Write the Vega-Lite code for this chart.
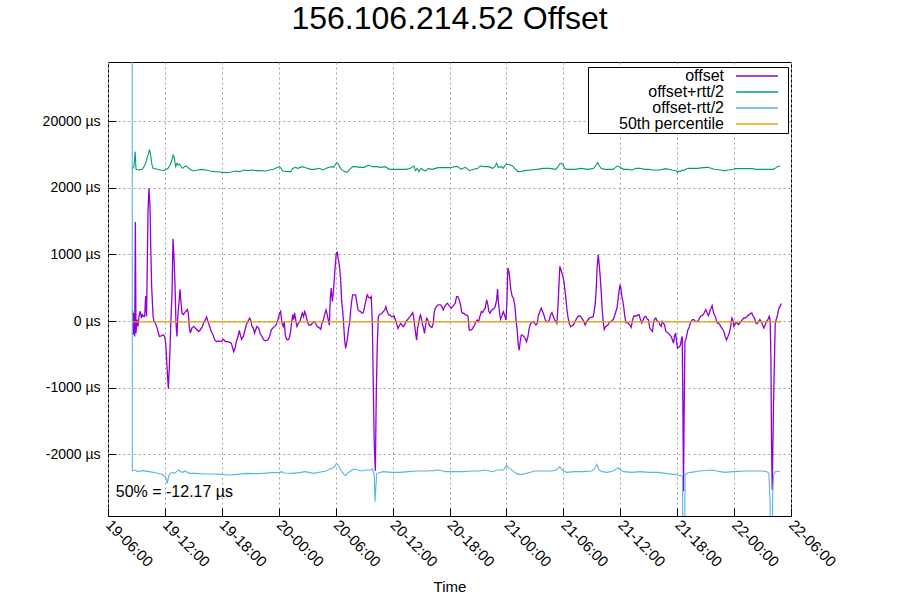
{
  "$schema": "https://vega.github.io/schema/vega-lite/v6.json",
  "width": 683,
  "height": 454,
  "autosize": {"type": "none"},
  "padding": {"left": 108, "top": 62, "right": 109, "bottom": 84},
  "background": "white",
  "title": {"text": "156.106.214.52 Offset", "fontSize": 32, "font": "Liberation Sans", "fontWeight": "normal", "anchor": "middle", "color": "black", "offset": 26},
  "config": {
    "view": {"stroke": "black", "strokeWidth": 1},
    "font": "Liberation Sans",
    "axis": {"grid": true, "gridDash": [2, 3], "gridColor": "#a0a0a0", "gridOpacity": 1, "domain": false, "tickColor": "black", "tickSize": -8, "labelColor": "black", "labelFontSize": 14, "labelFont": "Liberation Sans", "titleFont": "Liberation Sans", "titleFontSize": 15, "titleFontWeight": "normal", "titleColor": "black"}
  },
  "datasets": {
    "offset": [
      {"t":"2024-01-19T08:36","v":146},{"t":"2024-01-19T08:40","v":-207},{"t":"2024-01-19T08:44","v":121},{"t":"2024-01-19T08:49","v":-232},{"t":"2024-01-19T08:53","v":1485},{"t":"2024-01-19T08:57","v":-182},{"t":"2024-01-19T09:03","v":20},{"t":"2024-01-19T09:10","v":-81},{"t":"2024-01-19T09:16","v":71},{"t":"2024-01-19T09:24","v":146},{"t":"2024-01-19T09:31","v":45},{"t":"2024-01-19T09:37","v":96},{"t":"2024-01-19T09:43","v":71},{"t":"2024-01-19T09:52","v":71},{"t":"2024-01-19T09:58","v":374},{"t":"2024-01-19T10:04","v":71},{"t":"2024-01-19T10:13","v":1636},{"t":"2024-01-19T10:19","v":1990},{"t":"2024-01-19T10:26","v":1687},{"t":"2024-01-19T10:30","v":1131},{"t":"2024-01-19T10:36","v":525},{"t":"2024-01-19T10:45","v":71},{"t":"2024-01-19T10:51","v":-5},{"t":"2024-01-19T10:59","v":-30},{"t":"2024-01-19T11:08","v":-81},{"t":"2024-01-19T11:16","v":-157},{"t":"2024-01-19T11:25","v":-232},{"t":"2024-01-19T11:37","v":-222},{"t":"2024-01-19T11:50","v":-207},{"t":"2024-01-19T11:58","v":-232},{"t":"2024-01-19T12:05","v":-333},{"t":"2024-01-19T12:11","v":-586},{"t":"2024-01-19T12:17","v":-838},{"t":"2024-01-19T12:22","v":-1015},{"t":"2024-01-19T12:28","v":-687},{"t":"2024-01-19T12:32","v":-434},{"t":"2024-01-19T12:38","v":20},{"t":"2024-01-19T12:45","v":424},{"t":"2024-01-19T12:51","v":1232},{"t":"2024-01-19T12:57","v":980},{"t":"2024-01-19T13:04","v":525},{"t":"2024-01-19T13:10","v":-30},{"t":"2024-01-19T13:16","v":-232},{"t":"2024-01-19T13:23","v":121},{"t":"2024-01-19T13:29","v":273},{"t":"2024-01-19T13:35","v":475},{"t":"2024-01-19T13:42","v":273},{"t":"2024-01-19T13:48","v":121},{"t":"2024-01-19T13:56","v":96},{"t":"2024-01-19T14:05","v":121},{"t":"2024-01-19T14:13","v":146},{"t":"2024-01-19T14:22","v":172},{"t":"2024-01-19T14:28","v":121},{"t":"2024-01-19T14:34","v":-81},{"t":"2024-01-19T14:41","v":-182},{"t":"2024-01-19T14:51","v":-106},{"t":"2024-01-19T15:02","v":-81},{"t":"2024-01-19T15:12","v":-106},{"t":"2024-01-19T15:23","v":-131},{"t":"2024-01-19T15:33","v":-157},{"t":"2024-01-19T15:44","v":-131},{"t":"2024-01-19T15:54","v":-96},{"t":"2024-01-19T16:05","v":-30},{"t":"2024-01-19T16:16","v":20},{"t":"2024-01-19T16:24","v":61},{"t":"2024-01-19T16:32","v":-5},{"t":"2024-01-19T16:43","v":-81},{"t":"2024-01-19T16:53","v":-157},{"t":"2024-01-19T17:04","v":-207},{"t":"2024-01-19T17:15","v":-283},{"t":"2024-01-19T17:27","v":-308},{"t":"2024-01-19T17:40","v":-298},{"t":"2024-01-19T17:57","v":-308},{"t":"2024-01-19T18:11","v":-273},{"t":"2024-01-19T18:22","v":-308},{"t":"2024-01-19T18:35","v":-308},{"t":"2024-01-19T18:47","v":-318},{"t":"2024-01-19T19:00","v":-333},{"t":"2024-01-19T19:06","v":-384},{"t":"2024-01-19T19:15","v":-460},{"t":"2024-01-19T19:23","v":-409},{"t":"2024-01-19T19:32","v":-308},{"t":"2024-01-19T19:42","v":-232},{"t":"2024-01-19T19:51","v":-141},{"t":"2024-01-19T19:57","v":-207},{"t":"2024-01-19T20:05","v":-273},{"t":"2024-01-19T20:16","v":-232},{"t":"2024-01-19T20:24","v":-157},{"t":"2024-01-19T20:35","v":-56},{"t":"2024-01-19T20:45","v":-5},{"t":"2024-01-19T20:56","v":45},{"t":"2024-01-19T21:02","v":20},{"t":"2024-01-19T21:11","v":-81},{"t":"2024-01-19T21:19","v":-106},{"t":"2024-01-19T21:27","v":-182},{"t":"2024-01-19T21:34","v":-131},{"t":"2024-01-19T21:42","v":-81},{"t":"2024-01-19T21:53","v":-106},{"t":"2024-01-19T22:03","v":-192},{"t":"2024-01-19T22:14","v":-232},{"t":"2024-01-19T22:24","v":-283},{"t":"2024-01-19T22:37","v":-298},{"t":"2024-01-19T22:52","v":-283},{"t":"2024-01-19T23:02","v":-232},{"t":"2024-01-19T23:13","v":-131},{"t":"2024-01-19T23:23","v":-106},{"t":"2024-01-19T23:34","v":-81},{"t":"2024-01-19T23:44","v":-56},{"t":"2024-01-19T23:55","v":20},
      {"t":"2024-01-20T00:06","v":121},{"t":"2024-01-20T00:12","v":146},{"t":"2024-01-20T00:20","v":-30},{"t":"2024-01-20T00:29","v":-81},{"t":"2024-01-20T00:35","v":-5},{"t":"2024-01-20T00:41","v":-207},{"t":"2024-01-20T00:50","v":-273},{"t":"2024-01-20T00:58","v":-283},{"t":"2024-01-20T01:07","v":-258},{"t":"2024-01-20T01:15","v":-157},{"t":"2024-01-20T01:21","v":-30},{"t":"2024-01-20T01:28","v":96},{"t":"2024-01-20T01:34","v":20},{"t":"2024-01-20T01:40","v":121},{"t":"2024-01-20T01:47","v":20},{"t":"2024-01-20T01:55","v":-81},{"t":"2024-01-20T02:06","v":-30},{"t":"2024-01-20T02:14","v":-5},{"t":"2024-01-20T02:23","v":71},{"t":"2024-01-20T02:29","v":121},{"t":"2024-01-20T02:37","v":65},{"t":"2024-01-20T02:44","v":141},{"t":"2024-01-20T02:52","v":91},{"t":"2024-01-20T03:01","v":-10},{"t":"2024-01-20T03:11","v":-60},{"t":"2024-01-20T03:22","v":-60},{"t":"2024-01-20T03:32","v":-35},{"t":"2024-01-20T03:43","v":-10},{"t":"2024-01-20T03:53","v":-35},{"t":"2024-01-20T04:04","v":-86},{"t":"2024-01-20T04:14","v":-96},{"t":"2024-01-20T04:25","v":-126},{"t":"2024-01-20T04:33","v":-35},{"t":"2024-01-20T04:42","v":15},{"t":"2024-01-20T04:50","v":91},{"t":"2024-01-20T04:59","v":166},{"t":"2024-01-20T05:07","v":91},{"t":"2024-01-20T05:13","v":15},{"t":"2024-01-20T05:20","v":-60},{"t":"2024-01-20T05:26","v":342},{"t":"2024-01-20T05:32","v":493},{"t":"2024-01-20T05:39","v":292},{"t":"2024-01-20T05:45","v":417},{"t":"2024-01-20T05:51","v":619},{"t":"2024-01-20T05:58","v":845},{"t":"2024-01-20T06:04","v":1021},{"t":"2024-01-20T06:10","v":1031},{"t":"2024-01-20T06:17","v":920},{"t":"2024-01-20T06:23","v":845},{"t":"2024-01-20T06:31","v":644},{"t":"2024-01-20T06:38","v":292},{"t":"2024-01-20T06:44","v":166},{"t":"2024-01-20T06:50","v":-35},{"t":"2024-01-20T06:57","v":-287},{"t":"2024-01-20T07:03","v":-412},{"t":"2024-01-20T07:09","v":-337},{"t":"2024-01-20T07:16","v":-236},{"t":"2024-01-20T07:22","v":-111},{"t":"2024-01-20T07:28","v":-35},{"t":"2024-01-20T07:35","v":166},{"t":"2024-01-20T07:41","v":292},{"t":"2024-01-20T07:47","v":392},{"t":"2024-01-20T07:56","v":392},{"t":"2024-01-20T08:06","v":392},{"t":"2024-01-20T08:13","v":292},{"t":"2024-01-20T08:21","v":166},{"t":"2024-01-20T08:29","v":151},{"t":"2024-01-20T08:38","v":141},{"t":"2024-01-20T08:46","v":116},{"t":"2024-01-20T08:55","v":126},{"t":"2024-01-20T09:03","v":216},{"t":"2024-01-20T09:12","v":317},{"t":"2024-01-20T09:20","v":392},{"t":"2024-01-20T09:28","v":357},{"t":"2024-01-20T09:37","v":342},{"t":"2024-01-20T09:45","v":367},{"t":"2024-01-20T09:52","v":-35},{"t":"2024-01-20T09:58","v":-941},{"t":"2024-01-20T10:04","v":-1846},{"t":"2024-01-20T10:11","v":-2248},{"t":"2024-01-20T10:17","v":-1066},{"t":"2024-01-20T10:23","v":-387},{"t":"2024-01-20T10:30","v":65},{"t":"2024-01-20T10:36","v":91},{"t":"2024-01-20T10:44","v":106},{"t":"2024-01-20T10:53","v":116},{"t":"2024-01-20T11:01","v":141},{"t":"2024-01-20T11:10","v":166},{"t":"2024-01-20T11:18","v":216},{"t":"2024-01-20T11:26","v":141},{"t":"2024-01-20T11:35","v":91},{"t":"2024-01-20T11:43","v":91},{"t":"2024-01-20T11:52","v":65},{"t":"2024-01-20T12:00","v":65},{"t":"2024-01-20T12:09","v":75},{"t":"2024-01-20T12:17","v":25},{"t":"2024-01-20T12:25","v":-35},{"t":"2024-01-20T12:34","v":-111},{"t":"2024-01-20T12:42","v":-75},{"t":"2024-01-20T12:51","v":-35},{"t":"2024-01-20T12:59","v":-60},{"t":"2024-01-20T13:08","v":-86},{"t":"2024-01-20T13:16","v":-60},{"t":"2024-01-20T13:24","v":-10},{"t":"2024-01-20T13:33","v":15},{"t":"2024-01-20T13:41","v":40},{"t":"2024-01-20T13:50","v":65},{"t":"2024-01-20T13:58","v":91},{"t":"2024-01-20T14:07","v":126},{"t":"2024-01-20T14:13","v":65},{"t":"2024-01-20T14:19","v":-60},{"t":"2024-01-20T14:26","v":-186},{"t":"2024-01-20T14:32","v":-287},{"t":"2024-01-20T14:38","v":-111},{"t":"2024-01-20T14:45","v":-35},{"t":"2024-01-20T14:51","v":55},{"t":"2024-01-20T14:57","v":91},{"t":"2024-01-20T15:04","v":15},{"t":"2024-01-20T15:10","v":-60},{"t":"2024-01-20T15:16","v":-111},{"t":"2024-01-20T15:22","v":-186},{"t":"2024-01-20T15:29","v":-60},{"t":"2024-01-20T15:35","v":40},{"t":"2024-01-20T15:44","v":15},{"t":"2024-01-20T15:52","v":-60},{"t":"2024-01-20T16:00","v":-86},{"t":"2024-01-20T16:09","v":-96},{"t":"2024-01-20T16:17","v":-35},{"t":"2024-01-20T16:24","v":141},{"t":"2024-01-20T16:30","v":191},{"t":"2024-01-20T16:38","v":216},{"t":"2024-01-20T16:47","v":241},{"t":"2024-01-20T16:55","v":241},{"t":"2024-01-20T17:04","v":241},{"t":"2024-01-20T17:12","v":216},{"t":"2024-01-20T17:20","v":166},{"t":"2024-01-20T17:29","v":216},{"t":"2024-01-20T17:37","v":241},{"t":"2024-01-20T17:46","v":267},{"t":"2024-01-20T17:54","v":241},{"t":"2024-01-20T18:03","v":216},{"t":"2024-01-20T18:11","v":191},{"t":"2024-01-20T18:20","v":216},{"t":"2024-01-20T18:28","v":241},{"t":"2024-01-20T18:36","v":267},{"t":"2024-01-20T18:45","v":367},{"t":"2024-01-20T18:53","v":367},{"t":"2024-01-20T19:02","v":317},{"t":"2024-01-20T19:10","v":241},{"t":"2024-01-20T19:16","v":141},{"t":"2024-01-20T19:23","v":116},{"t":"2024-01-20T19:31","v":116},{"t":"2024-01-20T19:40","v":91},{"t":"2024-01-20T19:48","v":91},{"t":"2024-01-20T19:57","v":75},{"t":"2024-01-20T20:05","v":-136},{"t":"2024-01-20T20:13","v":-136},{"t":"2024-01-20T20:22","v":-126},{"t":"2024-01-20T20:30","v":-96},{"t":"2024-01-20T20:39","v":-60},{"t":"2024-01-20T20:47","v":-10},{"t":"2024-01-20T20:56","v":15},{"t":"2024-01-20T21:04","v":-10},{"t":"2024-01-20T21:12","v":65},{"t":"2024-01-20T21:21","v":141},{"t":"2024-01-20T21:29","v":126},{"t":"2024-01-20T21:38","v":166},{"t":"2024-01-20T21:46","v":191},{"t":"2024-01-20T21:55","v":317},{"t":"2024-01-20T22:03","v":241},{"t":"2024-01-20T22:09","v":141},{"t":"2024-01-20T22:16","v":116},{"t":"2024-01-20T22:24","v":156},{"t":"2024-01-20T22:32","v":176},{"t":"2024-01-20T22:41","v":181},{"t":"2024-01-20T22:49","v":216},{"t":"2024-01-20T22:58","v":317},{"t":"2024-01-20T23:04","v":478},{"t":"2024-01-20T23:10","v":267},{"t":"2024-01-20T23:17","v":116},{"t":"2024-01-20T23:23","v":25},{"t":"2024-01-20T23:31","v":75},{"t":"2024-01-20T23:40","v":141},{"t":"2024-01-20T23:48","v":91},{"t":"2024-01-20T23:57","v":15},
      {"t":"2024-01-21T00:03","v":267},{"t":"2024-01-21T00:09","v":795},{"t":"2024-01-21T00:16","v":744},{"t":"2024-01-21T00:22","v":619},{"t":"2024-01-21T00:28","v":468},{"t":"2024-01-21T00:37","v":367},{"t":"2024-01-21T00:45","v":342},{"t":"2024-01-21T00:54","v":216},{"t":"2024-01-21T01:02","v":-10},{"t":"2024-01-21T01:08","v":-136},{"t":"2024-01-21T01:15","v":-362},{"t":"2024-01-21T01:21","v":-438},{"t":"2024-01-21T01:27","v":-312},{"t":"2024-01-21T01:34","v":-211},{"t":"2024-01-21T01:42","v":-211},{"t":"2024-01-21T01:51","v":-236},{"t":"2024-01-21T01:59","v":-262},{"t":"2024-01-21T02:07","v":-312},{"t":"2024-01-21T02:16","v":-236},{"t":"2024-01-21T02:24","v":-111},{"t":"2024-01-21T02:33","v":-35},{"t":"2024-01-21T02:41","v":-25},{"t":"2024-01-21T02:50","v":-10},{"t":"2024-01-21T02:58","v":-35},{"t":"2024-01-21T03:07","v":-60},{"t":"2024-01-21T03:15","v":-35},{"t":"2024-01-21T03:23","v":91},{"t":"2024-01-21T03:32","v":141},{"t":"2024-01-21T03:40","v":191},{"t":"2024-01-21T03:49","v":141},{"t":"2024-01-21T03:57","v":91},{"t":"2024-01-21T04:06","v":15},{"t":"2024-01-21T04:14","v":-10},{"t":"2024-01-21T04:22","v":-10},{"t":"2024-01-21T04:31","v":15},{"t":"2024-01-21T04:39","v":91},{"t":"2024-01-21T04:48","v":126},{"t":"2024-01-21T04:56","v":75},{"t":"2024-01-21T05:05","v":15},{"t":"2024-01-21T05:13","v":-10},{"t":"2024-01-21T05:19","v":-35},{"t":"2024-01-21T05:26","v":216},{"t":"2024-01-21T05:32","v":518},{"t":"2024-01-21T05:38","v":820},{"t":"2024-01-21T05:45","v":770},{"t":"2024-01-21T05:51","v":719},{"t":"2024-01-21T05:57","v":669},{"t":"2024-01-21T06:04","v":594},{"t":"2024-01-21T06:10","v":468},{"t":"2024-01-21T06:16","v":342},{"t":"2024-01-21T06:23","v":166},{"t":"2024-01-21T06:29","v":65},{"t":"2024-01-21T06:37","v":-35},{"t":"2024-01-21T06:46","v":-86},{"t":"2024-01-21T06:54","v":-75},{"t":"2024-01-21T07:03","v":-60},{"t":"2024-01-21T07:11","v":-25},{"t":"2024-01-21T07:19","v":15},{"t":"2024-01-21T07:28","v":55},{"t":"2024-01-21T07:36","v":75},{"t":"2024-01-21T07:45","v":75},{"t":"2024-01-21T07:53","v":55},{"t":"2024-01-21T08:02","v":25},{"t":"2024-01-21T08:10","v":-10},{"t":"2024-01-21T08:18","v":-60},{"t":"2024-01-21T08:27","v":-10},{"t":"2024-01-21T08:35","v":15},{"t":"2024-01-21T08:44","v":40},{"t":"2024-01-21T08:52","v":55},{"t":"2024-01-21T09:01","v":55},{"t":"2024-01-21T09:09","v":65},{"t":"2024-01-21T09:15","v":141},{"t":"2024-01-21T09:22","v":267},{"t":"2024-01-21T09:28","v":468},{"t":"2024-01-21T09:34","v":820},{"t":"2024-01-21T09:41","v":996},{"t":"2024-01-21T09:47","v":845},{"t":"2024-01-21T09:53","v":669},{"t":"2024-01-21T10:00","v":418},{"t":"2024-01-21T10:06","v":166},{"t":"2024-01-21T10:12","v":-10},{"t":"2024-01-21T10:19","v":-126},{"t":"2024-01-21T10:25","v":-96},{"t":"2024-01-21T10:33","v":-75},{"t":"2024-01-21T10:42","v":-60},{"t":"2024-01-21T10:50","v":-25},{"t":"2024-01-21T10:59","v":-10},{"t":"2024-01-21T11:07","v":5},{"t":"2024-01-21T11:16","v":25},{"t":"2024-01-21T11:24","v":75},{"t":"2024-01-21T11:32","v":141},{"t":"2024-01-21T11:39","v":191},{"t":"2024-01-21T11:45","v":292},{"t":"2024-01-21T11:51","v":418},{"t":"2024-01-21T11:58","v":543},{"t":"2024-01-21T12:04","v":493},{"t":"2024-01-21T12:10","v":367},{"t":"2024-01-21T12:17","v":292},{"t":"2024-01-21T12:23","v":191},{"t":"2024-01-21T12:29","v":65},{"t":"2024-01-21T12:36","v":-25},{"t":"2024-01-21T12:44","v":-25},{"t":"2024-01-21T12:52","v":-35},{"t":"2024-01-21T13:01","v":-60},{"t":"2024-01-21T13:09","v":-96},{"t":"2024-01-21T13:18","v":15},{"t":"2024-01-21T13:26","v":75},{"t":"2024-01-21T13:35","v":75},{"t":"2024-01-21T13:43","v":75},{"t":"2024-01-21T13:51","v":91},{"t":"2024-01-21T13:59","v":96},{"t":"2024-01-21T14:08","v":20},{"t":"2024-01-21T14:16","v":-30},{"t":"2024-01-21T14:25","v":20},{"t":"2024-01-21T14:33","v":61},{"t":"2024-01-21T14:42","v":71},{"t":"2024-01-21T14:50","v":30},{"t":"2024-01-21T14:58","v":20},{"t":"2024-01-21T15:07","v":-106},{"t":"2024-01-21T15:15","v":-131},{"t":"2024-01-21T15:24","v":-157},{"t":"2024-01-21T15:30","v":-30},{"t":"2024-01-21T15:36","v":20},{"t":"2024-01-21T15:45","v":45},{"t":"2024-01-21T15:53","v":-5},{"t":"2024-01-21T16:02","v":-5},{"t":"2024-01-21T16:10","v":-56},{"t":"2024-01-21T16:19","v":-81},{"t":"2024-01-21T16:25","v":-5},{"t":"2024-01-21T16:31","v":-30},{"t":"2024-01-21T16:40","v":-56},{"t":"2024-01-21T16:48","v":-157},{"t":"2024-01-21T16:57","v":-172},{"t":"2024-01-21T17:05","v":-182},{"t":"2024-01-21T17:13","v":-207},{"t":"2024-01-21T17:22","v":-232},{"t":"2024-01-21T17:30","v":-283},{"t":"2024-01-21T17:37","v":-333},{"t":"2024-01-21T17:43","v":-232},{"t":"2024-01-21T17:50","v":-182},{"t":"2024-01-21T17:56","v":-308},{"t":"2024-01-21T18:02","v":-409},{"t":"2024-01-21T18:09","v":-394},{"t":"2024-01-21T18:15","v":-384},{"t":"2024-01-21T18:21","v":-359},{"t":"2024-01-21T18:28","v":-258},{"t":"2024-01-21T18:32","v":-232},{"t":"2024-01-21T18:36","v":-1187},{"t":"2024-01-21T18:40","v":-2555},{"t":"2024-01-21T18:44","v":-1394},{"t":"2024-01-21T18:49","v":-308},{"t":"2024-01-21T18:55","v":-283},{"t":"2024-01-21T19:01","v":-207},{"t":"2024-01-21T19:08","v":-131},{"t":"2024-01-21T19:14","v":-106},{"t":"2024-01-21T19:20","v":-56},{"t":"2024-01-21T19:29","v":-5},{"t":"2024-01-21T19:37","v":20},{"t":"2024-01-21T19:46","v":20},{"t":"2024-01-21T19:54","v":-5},{"t":"2024-01-21T20:02","v":-5},{"t":"2024-01-21T20:11","v":-5},{"t":"2024-01-21T20:19","v":30},{"t":"2024-01-21T20:28","v":71},{"t":"2024-01-21T20:36","v":81},{"t":"2024-01-21T20:45","v":96},{"t":"2024-01-21T20:53","v":131},{"t":"2024-01-21T21:01","v":172},{"t":"2024-01-21T21:10","v":121},{"t":"2024-01-21T21:18","v":81},{"t":"2024-01-21T21:27","v":146},{"t":"2024-01-21T21:35","v":197},{"t":"2024-01-21T21:41","v":232},{"t":"2024-01-21T21:48","v":146},{"t":"2024-01-21T21:54","v":96},{"t":"2024-01-21T22:00","v":71},{"t":"2024-01-21T22:07","v":20},{"t":"2024-01-21T22:13","v":-30},{"t":"2024-01-21T22:22","v":-30},{"t":"2024-01-21T22:30","v":-56},{"t":"2024-01-21T22:38","v":-91},{"t":"2024-01-21T22:47","v":-121},{"t":"2024-01-21T22:55","v":-157},{"t":"2024-01-21T23:04","v":-232},{"t":"2024-01-21T23:12","v":-283},{"t":"2024-01-21T23:21","v":-232},{"t":"2024-01-21T23:29","v":-182},{"t":"2024-01-21T23:37","v":-106},{"t":"2024-01-21T23:46","v":45},{"t":"2024-01-21T23:52","v":20},{"t":"2024-01-21T23:59","v":-81},
      {"t":"2024-01-22T00:05","v":-56},{"t":"2024-01-22T00:11","v":-30},{"t":"2024-01-22T00:20","v":-30},{"t":"2024-01-22T00:28","v":-56},{"t":"2024-01-22T00:36","v":-30},{"t":"2024-01-22T00:45","v":-5},{"t":"2024-01-22T00:53","v":20},{"t":"2024-01-22T01:02","v":45},{"t":"2024-01-22T01:10","v":45},{"t":"2024-01-22T01:19","v":61},{"t":"2024-01-22T01:27","v":81},{"t":"2024-01-22T01:36","v":96},{"t":"2024-01-22T01:44","v":111},{"t":"2024-01-22T01:52","v":121},{"t":"2024-01-22T02:01","v":71},{"t":"2024-01-22T02:09","v":45},{"t":"2024-01-22T02:18","v":-30},{"t":"2024-01-22T02:26","v":-40},{"t":"2024-01-22T02:35","v":-5},{"t":"2024-01-22T02:43","v":20},{"t":"2024-01-22T02:51","v":-5},{"t":"2024-01-22T03:00","v":-56},{"t":"2024-01-22T03:08","v":-106},{"t":"2024-01-22T03:17","v":-56},{"t":"2024-01-22T03:25","v":-5},{"t":"2024-01-22T03:34","v":20},{"t":"2024-01-22T03:42","v":71},{"t":"2024-01-22T03:48","v":20},{"t":"2024-01-22T03:53","v":-561},{"t":"2024-01-22T03:57","v":-1848},{"t":"2024-01-22T04:01","v":-2530},{"t":"2024-01-22T04:05","v":-1949},{"t":"2024-01-22T04:09","v":-1293},{"t":"2024-01-22T04:14","v":-737},{"t":"2024-01-22T04:20","v":-56},{"t":"2024-01-22T04:26","v":20},{"t":"2024-01-22T04:33","v":71},{"t":"2024-01-22T04:39","v":146},{"t":"2024-01-22T04:45","v":197},{"t":"2024-01-22T04:52","v":222},{"t":"2024-01-22T04:58","v":263}
    ],
    "plus": [
      {"t":"2024-01-19T08:33","v":2275},{"t":"2024-01-19T08:44","v":2315},{"t":"2024-01-19T08:52","v":2540},{"t":"2024-01-19T08:57","v":2275},{"t":"2024-01-19T09:16","v":2265},{"t":"2024-01-19T09:37","v":2275},{"t":"2024-01-19T09:48","v":2315},{"t":"2024-01-19T09:58","v":2365},{"t":"2024-01-19T10:09","v":2465},{"t":"2024-01-19T10:17","v":2515},{"t":"2024-01-19T10:22","v":2575},{"t":"2024-01-19T10:30","v":2490},{"t":"2024-01-19T10:38","v":2340},{"t":"2024-01-19T10:46","v":2290},{"t":"2024-01-19T11:13","v":2275},{"t":"2024-01-19T11:53","v":2255},{"t":"2024-01-19T12:20","v":2290},{"t":"2024-01-19T12:33","v":2340},{"t":"2024-01-19T12:44","v":2415},{"t":"2024-01-19T12:52","v":2490},{"t":"2024-01-19T13:00","v":2440},{"t":"2024-01-19T13:08","v":2315},{"t":"2024-01-19T13:16","v":2365},{"t":"2024-01-19T13:24","v":2340},{"t":"2024-01-19T13:32","v":2355},{"t":"2024-01-19T13:42","v":2315},{"t":"2024-01-19T13:53","v":2290},{"t":"2024-01-19T14:04","v":2315},{"t":"2024-01-19T14:14","v":2325},{"t":"2024-01-19T14:25","v":2305},{"t":"2024-01-19T14:36","v":2280},{"t":"2024-01-19T14:47","v":2265},{"t":"2024-01-19T15:00","v":2250},{"t":"2024-01-19T15:27","v":2265},{"t":"2024-01-19T15:53","v":2275},{"t":"2024-01-19T16:20","v":2265},{"t":"2024-01-19T16:47","v":2250},{"t":"2024-01-19T17:13","v":2240},{"t":"2024-01-19T17:40","v":2235},{"t":"2024-01-19T18:07","v":2230},{"t":"2024-01-19T18:33","v":2225},{"t":"2024-01-19T19:00","v":2235},{"t":"2024-01-19T19:27","v":2250},{"t":"2024-01-19T19:53","v":2240},{"t":"2024-01-19T20:20","v":2265},{"t":"2024-01-19T20:47","v":2255},{"t":"2024-01-19T21:13","v":2265},{"t":"2024-01-19T21:40","v":2255},{"t":"2024-01-19T22:07","v":2255},{"t":"2024-01-19T22:33","v":2250},{"t":"2024-01-19T23:00","v":2265},{"t":"2024-01-19T23:27","v":2275},{"t":"2024-01-19T23:53","v":2305},
      {"t":"2024-01-20T00:04","v":2315},{"t":"2024-01-20T00:15","v":2290},{"t":"2024-01-20T00:25","v":2250},{"t":"2024-01-20T00:55","v":2240},{"t":"2024-01-20T01:16","v":2240},{"t":"2024-01-20T01:27","v":2285},{"t":"2024-01-20T01:43","v":2305},{"t":"2024-01-20T02:01","v":2290},{"t":"2024-01-20T02:28","v":2315},{"t":"2024-01-20T02:55","v":2295},{"t":"2024-01-20T03:21","v":2275},{"t":"2024-01-20T03:48","v":2275},{"t":"2024-01-20T04:15","v":2290},{"t":"2024-01-20T04:41","v":2265},{"t":"2024-01-20T05:08","v":2300},{"t":"2024-01-20T05:35","v":2315},{"t":"2024-01-20T05:48","v":2305},{"t":"2024-01-20T05:59","v":2355},{"t":"2024-01-20T06:07","v":2375},{"t":"2024-01-20T06:15","v":2365},{"t":"2024-01-20T06:25","v":2315},{"t":"2024-01-20T06:36","v":2275},{"t":"2024-01-20T06:52","v":2245},{"t":"2024-01-20T07:13","v":2230},{"t":"2024-01-20T07:29","v":2275},{"t":"2024-01-20T07:48","v":2315},{"t":"2024-01-20T08:07","v":2315},{"t":"2024-01-20T08:33","v":2305},{"t":"2024-01-20T09:00","v":2305},{"t":"2024-01-20T09:27","v":2340},{"t":"2024-01-20T09:53","v":2315},{"t":"2024-01-20T10:20","v":2315},{"t":"2024-01-20T10:47","v":2305},{"t":"2024-01-20T11:13","v":2315},{"t":"2024-01-20T11:40","v":2275},{"t":"2024-01-20T12:07","v":2275},{"t":"2024-01-20T12:47","v":2275},{"t":"2024-01-20T13:27","v":2275},{"t":"2024-01-20T13:53","v":2290},{"t":"2024-01-20T14:15","v":2325},{"t":"2024-01-20T14:25","v":2255},{"t":"2024-01-20T14:36","v":2290},{"t":"2024-01-20T14:47","v":2240},{"t":"2024-01-20T15:00","v":2290},{"t":"2024-01-20T15:13","v":2265},{"t":"2024-01-20T15:27","v":2250},{"t":"2024-01-20T15:45","v":2285},{"t":"2024-01-20T16:12","v":2275},{"t":"2024-01-20T16:47","v":2300},{"t":"2024-01-20T17:27","v":2300},{"t":"2024-01-20T18:07","v":2300},{"t":"2024-01-20T18:33","v":2315},{"t":"2024-01-20T18:52","v":2315},{"t":"2024-01-20T19:13","v":2275},{"t":"2024-01-20T19:40","v":2305},{"t":"2024-01-20T20:07","v":2255},{"t":"2024-01-20T20:33","v":2275},{"t":"2024-01-20T21:00","v":2290},{"t":"2024-01-20T21:13","v":2325},{"t":"2024-01-20T21:40","v":2315},{"t":"2024-01-20T22:07","v":2315},{"t":"2024-01-20T22:33","v":2290},{"t":"2024-01-20T22:47","v":2315},{"t":"2024-01-20T22:57","v":2365},{"t":"2024-01-20T23:08","v":2305},{"t":"2024-01-20T23:29","v":2315},{"t":"2024-01-20T23:40","v":2290},{"t":"2024-01-20T23:53","v":2340},
      {"t":"2024-01-21T00:01","v":2355},{"t":"2024-01-21T00:25","v":2340},{"t":"2024-01-21T00:39","v":2325},{"t":"2024-01-21T00:52","v":2290},{"t":"2024-01-21T01:03","v":2265},{"t":"2024-01-21T01:13","v":2240},{"t":"2024-01-21T01:27","v":2240},{"t":"2024-01-21T01:53","v":2255},{"t":"2024-01-21T02:33","v":2265},{"t":"2024-01-21T03:13","v":2275},{"t":"2024-01-21T03:53","v":2290},{"t":"2024-01-21T04:33","v":2290},{"t":"2024-01-21T05:13","v":2275},{"t":"2024-01-21T05:27","v":2315},{"t":"2024-01-21T05:37","v":2355},{"t":"2024-01-21T05:48","v":2365},{"t":"2024-01-21T05:59","v":2340},{"t":"2024-01-21T06:09","v":2290},{"t":"2024-01-21T06:20","v":2275},{"t":"2024-01-21T07:13","v":2275},{"t":"2024-01-21T07:53","v":2290},{"t":"2024-01-21T08:33","v":2275},{"t":"2024-01-21T09:13","v":2290},{"t":"2024-01-21T09:27","v":2340},{"t":"2024-01-21T09:37","v":2375},{"t":"2024-01-21T09:48","v":2325},{"t":"2024-01-21T09:59","v":2290},{"t":"2024-01-21T10:20","v":2275},{"t":"2024-01-21T11:14","v":2275},{"t":"2024-01-21T11:30","v":2305},{"t":"2024-01-21T11:40","v":2325},{"t":"2024-01-21T11:54","v":2315},{"t":"2024-01-21T12:20","v":2275},{"t":"2024-01-21T12:47","v":2275},{"t":"2024-01-21T13:14","v":2265},{"t":"2024-01-21T13:40","v":2290},{"t":"2024-01-21T14:07","v":2290},{"t":"2024-01-21T14:34","v":2275},{"t":"2024-01-21T15:00","v":2275},{"t":"2024-01-21T15:27","v":2265},{"t":"2024-01-21T16:07","v":2265},{"t":"2024-01-21T16:47","v":2285},{"t":"2024-01-21T17:27","v":2265},{"t":"2024-01-21T17:54","v":2255},{"t":"2024-01-21T18:02","v":2225},{"t":"2024-01-21T18:10","v":2250},{"t":"2024-01-21T18:20","v":2240},{"t":"2024-01-21T18:31","v":2265},{"t":"2024-01-21T18:42","v":2255},{"t":"2024-01-21T18:52","v":2275},{"t":"2024-01-21T19:14","v":2290},{"t":"2024-01-21T19:40","v":2290},{"t":"2024-01-21T20:07","v":2290},{"t":"2024-01-21T20:47","v":2300},{"t":"2024-01-21T21:14","v":2305},{"t":"2024-01-21T21:54","v":2275},{"t":"2024-01-21T22:34","v":2265},{"t":"2024-01-21T23:00","v":2255},{"t":"2024-01-21T23:27","v":2265},{"t":"2024-01-21T23:56","v":2275},
      {"t":"2024-01-22T00:07","v":2285},{"t":"2024-01-22T01:54","v":2285},{"t":"2024-01-22T02:20","v":2275},{"t":"2024-01-22T04:07","v":2275},{"t":"2024-01-22T04:20","v":2290},{"t":"2024-01-22T04:34","v":2315},{"t":"2024-01-22T04:52","v":2325}
    ],
    "minus": [
      {"t":"2024-01-19T08:33","v":4500},{"t":"2024-01-19T08:34","v":-2245},{"t":"2024-01-19T08:55","v":-2235},{"t":"2024-01-19T09:05","v":-2260},{"t":"2024-01-19T09:40","v":-2245},{"t":"2024-01-19T10:20","v":-2260},{"t":"2024-01-19T10:47","v":-2270},{"t":"2024-01-19T11:13","v":-2285},{"t":"2024-01-19T11:40","v":-2300},{"t":"2024-01-19T11:56","v":-2320},{"t":"2024-01-19T12:07","v":-2360},{"t":"2024-01-19T12:15","v":-2435},{"t":"2024-01-19T12:23","v":-2335},{"t":"2024-01-19T12:33","v":-2285},{"t":"2024-01-19T12:47","v":-2270},{"t":"2024-01-19T13:00","v":-2285},{"t":"2024-01-19T13:13","v":-2260},{"t":"2024-01-19T13:27","v":-2235},{"t":"2024-01-19T13:40","v":-2260},{"t":"2024-01-19T13:53","v":-2270},{"t":"2024-01-19T14:07","v":-2250},{"t":"2024-01-19T14:33","v":-2285},{"t":"2024-01-19T15:13","v":-2285},{"t":"2024-01-19T16:07","v":-2295},{"t":"2024-01-19T17:00","v":-2295},{"t":"2024-01-19T17:53","v":-2300},{"t":"2024-01-19T18:47","v":-2310},{"t":"2024-01-19T19:40","v":-2300},{"t":"2024-01-19T20:33","v":-2285},{"t":"2024-01-19T21:27","v":-2290},{"t":"2024-01-19T22:20","v":-2285},{"t":"2024-01-19T23:13","v":-2275},
      {"t":"2024-01-20T00:07","v":-2270},{"t":"2024-01-20T00:20","v":-2260},{"t":"2024-01-20T00:33","v":-2280},{"t":"2024-01-20T01:27","v":-2285},{"t":"2024-01-20T02:20","v":-2270},{"t":"2024-01-20T02:47","v":-2260},{"t":"2024-01-20T03:40","v":-2285},{"t":"2024-01-20T04:33","v":-2260},{"t":"2024-01-20T05:00","v":-2250},{"t":"2024-01-20T05:21","v":-2220},{"t":"2024-01-20T05:40","v":-2210},{"t":"2024-01-20T05:53","v":-2185},{"t":"2024-01-20T06:04","v":-2135},{"t":"2024-01-20T06:15","v":-2160},{"t":"2024-01-20T06:33","v":-2235},{"t":"2024-01-20T06:52","v":-2300},{"t":"2024-01-20T07:03","v":-2320},{"t":"2024-01-20T07:13","v":-2285},{"t":"2024-01-20T07:35","v":-2250},{"t":"2024-01-20T07:53","v":-2220},{"t":"2024-01-20T08:20","v":-2235},{"t":"2024-01-20T08:47","v":-2250},{"t":"2024-01-20T09:13","v":-2235},{"t":"2024-01-20T09:40","v":-2235},{"t":"2024-01-20T09:53","v":-2220},{"t":"2024-01-20T10:04","v":-2310},{"t":"2024-01-20T10:09","v":-2710},{"t":"2024-01-20T10:15","v":-2460},{"t":"2024-01-20T10:20","v":-2285},{"t":"2024-01-20T11:00","v":-2260},{"t":"2024-01-20T11:53","v":-2270},{"t":"2024-01-20T12:47","v":-2270},{"t":"2024-01-20T13:40","v":-2260},{"t":"2024-01-20T14:33","v":-2250},{"t":"2024-01-20T15:27","v":-2250},{"t":"2024-01-20T16:20","v":-2245},{"t":"2024-01-20T16:47","v":-2235},{"t":"2024-01-20T17:40","v":-2260},{"t":"2024-01-20T18:33","v":-2260},{"t":"2024-01-20T19:27","v":-2260},{"t":"2024-01-20T20:20","v":-2250},{"t":"2024-01-20T21:13","v":-2250},{"t":"2024-01-20T21:40","v":-2235},{"t":"2024-01-20T22:33","v":-2260},{"t":"2024-01-20T23:00","v":-2235},{"t":"2024-01-20T23:40","v":-2235},
      {"t":"2024-01-21T00:01","v":-2170},{"t":"2024-01-21T00:20","v":-2210},{"t":"2024-01-21T00:47","v":-2260},{"t":"2024-01-21T01:13","v":-2300},{"t":"2024-01-21T01:40","v":-2300},{"t":"2024-01-21T02:07","v":-2285},{"t":"2024-01-21T02:33","v":-2270},{"t":"2024-01-21T03:00","v":-2250},{"t":"2024-01-21T03:53","v":-2250},{"t":"2024-01-21T04:47","v":-2250},{"t":"2024-01-21T05:13","v":-2235},{"t":"2024-01-21T05:27","v":-2210},{"t":"2024-01-21T05:37","v":-2185},{"t":"2024-01-21T05:53","v":-2235},{"t":"2024-01-21T06:20","v":-2270},{"t":"2024-01-21T07:13","v":-2260},{"t":"2024-01-21T08:07","v":-2260},{"t":"2024-01-21T09:00","v":-2250},{"t":"2024-01-21T09:19","v":-2210},{"t":"2024-01-21T09:32","v":-2150},{"t":"2024-01-21T09:46","v":-2235},{"t":"2024-01-21T10:07","v":-2260},{"t":"2024-01-21T10:34","v":-2270},{"t":"2024-01-21T11:00","v":-2260},{"t":"2024-01-21T11:27","v":-2235},{"t":"2024-01-21T11:46","v":-2200},{"t":"2024-01-21T12:02","v":-2235},{"t":"2024-01-21T12:20","v":-2260},{"t":"2024-01-21T13:14","v":-2270},{"t":"2024-01-21T14:07","v":-2260},{"t":"2024-01-21T15:00","v":-2270},{"t":"2024-01-21T15:54","v":-2270},{"t":"2024-01-21T16:47","v":-2285},{"t":"2024-01-21T17:40","v":-2300},{"t":"2024-01-21T18:07","v":-2310},{"t":"2024-01-21T18:26","v":-2320},{"t":"2024-01-21T18:34","v":-2335},{"t":"2024-01-21T18:39","v":-4900},{"t":"2024-01-21T18:44","v":-4900},{"t":"2024-01-21T18:50","v":-2310},{"t":"2024-01-21T19:00","v":-2285},{"t":"2024-01-21T19:27","v":-2270},{"t":"2024-01-21T20:20","v":-2250},{"t":"2024-01-21T21:40","v":-2235},{"t":"2024-01-21T22:34","v":-2260},{"t":"2024-01-21T23:00","v":-2270},{"t":"2024-01-21T23:54","v":-2260},
      {"t":"2024-01-22T01:14","v":-2250},{"t":"2024-01-22T03:00","v":-2250},{"t":"2024-01-22T03:27","v":-2260},{"t":"2024-01-22T03:40","v":-2285},{"t":"2024-01-22T03:48","v":-2710},{"t":"2024-01-22T03:54","v":-4800},{"t":"2024-01-22T03:59","v":-4800},{"t":"2024-01-22T04:04","v":-2610},{"t":"2024-01-22T04:10","v":-2310},{"t":"2024-01-22T04:20","v":-2260},{"t":"2024-01-22T04:52","v":-2250}
    ],
    "pct": [
      {"t":"2024-01-19T08:36","v":-12.17},{"t":"2024-01-22T04:58","v":-12.17}
    ],
    "note": [
      {"t":"2024-01-19T06:49","v":-2560,"label":"50% = -12.17 µs"}
    ]
  },
  "encoding": {
    "x": {
      "field": "t", "type": "temporal",
      "scale": {"domain": [{"year":2024,"month":1,"date":19,"hours":6},{"year":2024,"month":1,"date":22,"hours":6}], "nice": false},
      "axis": {
        "title": "Time", "format": "%d-%H:%M",
        "values": [
          {"year":2024,"month":1,"date":19,"hours":6},{"year":2024,"month":1,"date":19,"hours":12},{"year":2024,"month":1,"date":19,"hours":18},
          {"year":2024,"month":1,"date":20,"hours":0},{"year":2024,"month":1,"date":20,"hours":6},{"year":2024,"month":1,"date":20,"hours":12},{"year":2024,"month":1,"date":20,"hours":18},
          {"year":2024,"month":1,"date":21,"hours":0},{"year":2024,"month":1,"date":21,"hours":6},{"year":2024,"month":1,"date":21,"hours":12},{"year":2024,"month":1,"date":21,"hours":18},
          {"year":2024,"month":1,"date":22,"hours":0},{"year":2024,"month":1,"date":22,"hours":6}
        ],
        "labelAngle": 45, "labelAlign": "left", "labelBaseline": "middle", "labelPadding": 14, "labelFontSize": 15,
        "labelOverlap": false, "labelFlush": false, "labelBound": false,
        "titleY": 75, "titleBaseline": "alphabetic"
      }
    },
    "y": {
      "field": "v", "type": "quantitative",
      "scale": {"domain": [-2925, 3885], "nice": false, "zero": false},
      "axis": {
        "title": null, "values": [-2000, -1000, 0, 1000, 2000, 3000],
        "labelExpr": "datum.value == 3000 ? '20000 µs' : datum.value + ' µs'",
        "labelPadding": 16
      }
    }
  },
  "layer": [
    {
      "data": {"name": "offset"},
      "mark": {"type": "line", "strokeWidth": 1.3, "clip": true},
      "encoding": {
        "color": {
          "datum": "offset", "type": "nominal",
          "scale": {"domain": ["offset", "offset+rtt/2", "offset-rtt/2", "50th percentile"], "range": ["#9400d3", "#009e73", "#56b4e9", "#e69f00"]},
          "legend": {
            "title": null, "orient": "none", "legendX": 480, "legendY": 5,
            "symbolType": "M-4,0L4,0M5.1,0", "symbolSize": 110, "symbolStrokeWidth": 1.5,
            "labelAlign": "right", "labelOffset": -41, "symbolOffset": 160,
            "labelFontSize": 16, "labelFont": "Liberation Sans", "labelColor": "black",
            "strokeColor": "black", "fillColor": "white", "padding": 1, "rowPadding": -1
          }
        }
      }
    },
    {
      "data": {"name": "plus"},
      "mark": {"type": "line", "strokeWidth": 1.1, "clip": true},
      "encoding": {"color": {"datum": "offset+rtt/2", "type": "nominal"}}
    },
    {
      "data": {"name": "minus"},
      "mark": {"type": "line", "strokeWidth": 1.1, "clip": true},
      "encoding": {"color": {"datum": "offset-rtt/2", "type": "nominal"}}
    },
    {
      "data": {"name": "pct"},
      "mark": {"type": "line", "strokeWidth": 1.3, "clip": true},
      "encoding": {"color": {"datum": "50th percentile", "type": "nominal"}}
    },
    {
      "data": {"name": "note"},
      "mark": {"type": "text", "align": "left", "baseline": "middle", "fontSize": 16, "font": "Liberation Sans", "color": "black"},
      "encoding": {"text": {"field": "label"}}
    }
  ]
}
